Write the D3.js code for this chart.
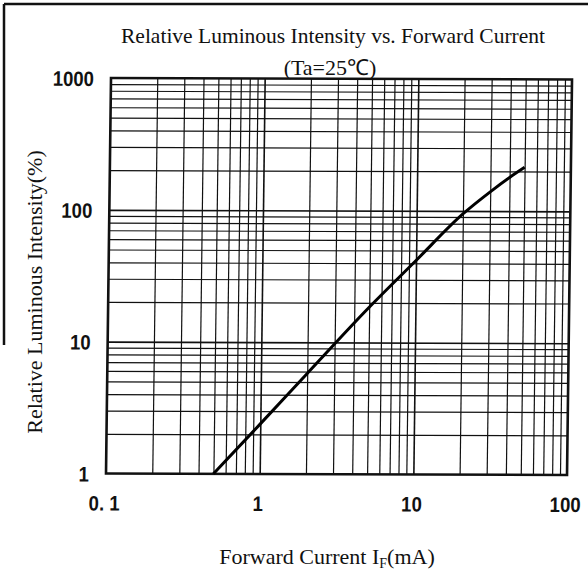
<!DOCTYPE html>
<html>
<head>
<meta charset="utf-8">
<script src="https://cdn.jsdelivr.net/npm/d3@7"></script>
<style>
  body { margin: 0; background: #fff; }
  svg { display: block; }
  .serif { font-family: 'Liberation Serif', 'Times New Roman', serif; fill: #111; }
  .num { font-family: 'Liberation Sans', Arial, sans-serif; font-weight: bold; font-size: 21px; fill: #111; }
</style>
</head>
<body>
<div id="chart"></div>
<script>
// forward current (mA) vs relative luminous intensity (%)
const currentMA = [0.5, 1, 2, 5, 10, 20, 30, 40, 50];
const intensityPct = [1, 2.4, 5.8, 18.5, 42, 95, 140, 180, 215];

const xTickValues = [0.1, 1, 10, 100];
const xTickLabels = ['0. 1', '1', '10', '100'];
const yTickValues = [1, 10, 100, 1000];
const yTickLabels = ['1', '10', '100', '1000'];

const xGrid = [0.2, 0.3, 0.4, 0.5, 0.6, 0.7, 0.8, 0.9, 1, 2, 3, 4, 5, 6, 7, 8, 9, 10, 20, 30, 40, 50, 60, 70, 80, 90];
const yGrid = [2, 3, 4, 5, 6, 7, 8, 9, 10, 20, 30, 40, 50, 60, 70, 80, 90, 100, 200, 300, 400, 500, 600, 700, 800, 900];

const fullW = 588, fullH = 583;
const width = 460, height = 396;
// the scanned chart is slightly skewed; plot group is drawn through an affine map
const skew = { a: 1.0022, b: 0.0033, c: -0.0126, d: 0.9987, e: 111, f: 78 };

const svg = d3.select('#chart').append('svg')
  .attr('width', fullW)
  .attr('height', fullH);

// scan frame remnants
svg.append('line').attr('x1', 4).attr('y1', 4).attr('x2', fullW).attr('y2', 4)
  .attr('stroke', '#111').attr('stroke-width', 2.5);
svg.append('line').attr('x1', 4).attr('y1', 4).attr('x2', 4).attr('y2', 345)
  .attr('stroke', '#111').attr('stroke-width', 2.5);

const xScale = d3.scaleLog().domain([0.1, 100]).range([0, width]);
const yScale = d3.scaleLog().domain([1, 1000]).range([height, 0]);

const plot = svg.append('g')
  .attr('transform', 'matrix(' + [skew.a, skew.b, skew.c, skew.d, skew.e, skew.f].join(',') + ')');

// grid
const gx = plot.append('g')
  .attr('transform', 'translate(0,' + height + ')')
  .call(d3.axisBottom(xScale).tickValues(xGrid).tickSize(-height).tickFormat(''));
const gy = plot.append('g')
  .call(d3.axisLeft(yScale).tickValues(yGrid).tickSize(-width).tickFormat(''));
[gx, gy].forEach(g => {
  g.select('.domain').remove();
  g.selectAll('line')
    .attr('stroke', '#111')
    .attr('stroke-width', d => ([1, 10, 100].includes(d) ? 1.6 : 1.2));
});

// border
plot.append('rect')
  .attr('width', width)
  .attr('height', height)
  .attr('fill', 'none')
  .attr('stroke', '#111')
  .attr('stroke-width', 2.6);

// curve
const line = d3.line()
  .x((d, i) => xScale(currentMA[i]))
  .y(d => yScale(d))
  .curve(d3.curveMonotoneX);
plot.append('path')
  .datum(intensityPct)
  .attr('d', line)
  .attr('fill', 'none')
  .attr('stroke', '#000')
  .attr('stroke-width', 3);

// tick labels
const narrow = 0.88;
const xAx = plot.append('g')
  .attr('transform', 'translate(-2,' + height + ')')
  .call(d3.axisBottom(xScale).tickValues(xTickValues).tickSize(0)
    .tickFormat((d, i) => xTickLabels[i]));
xAx.select('.domain').remove();
xAx.selectAll('text')
  .attr('class', 'num')
  .attr('y', 37).attr('dy', 0)
  .attr('transform', 'scale(' + narrow + ',1)');

const yAx = plot.append('g')
  .call(d3.axisLeft(yScale).tickValues(yTickValues).tickSize(0)
    .tickFormat((d, i) => yTickLabels[i]));
yAx.select('.domain').remove();
yAx.selectAll('text')
  .attr('class', 'num')
  .attr('x', -17 / narrow).attr('dy', '0.36em')
  .attr('text-anchor', 'end')
  .attr('transform', 'scale(' + narrow + ',1)');

// titles
svg.append('text')
  .attr('class', 'serif')
  .attr('x', 333).attr('y', 43)
  .attr('text-anchor', 'middle')
  .style('font-size', '21.5px')
  .text('Relative Luminous Intensity vs. Forward Current');

svg.append('text')
  .attr('class', 'serif')
  .attr('x', 330).attr('y', 75)
  .attr('text-anchor', 'middle')
  .style('font-size', '22px')
  .text('(Ta=25\u2103)');

const xt = svg.append('text')
  .attr('class', 'serif')
  .attr('x', 327).attr('y', 564)
  .attr('text-anchor', 'middle')
  .style('font-size', '22px');
xt.append('tspan').text('Forward Current I');
xt.append('tspan').attr('dy', 4).style('font-size', '14px').text('F');
xt.append('tspan').attr('dy', -4).text('(mA)');

svg.append('text')
  .attr('class', 'serif')
  .attr('x', 0).attr('y', 0)
  .attr('text-anchor', 'middle')
  .attr('transform', 'translate(42,292) rotate(-90)')
  .style('font-size', '22px')
  .text('Relative Luminous Intensity(%)');
</script>
</body>
</html>
